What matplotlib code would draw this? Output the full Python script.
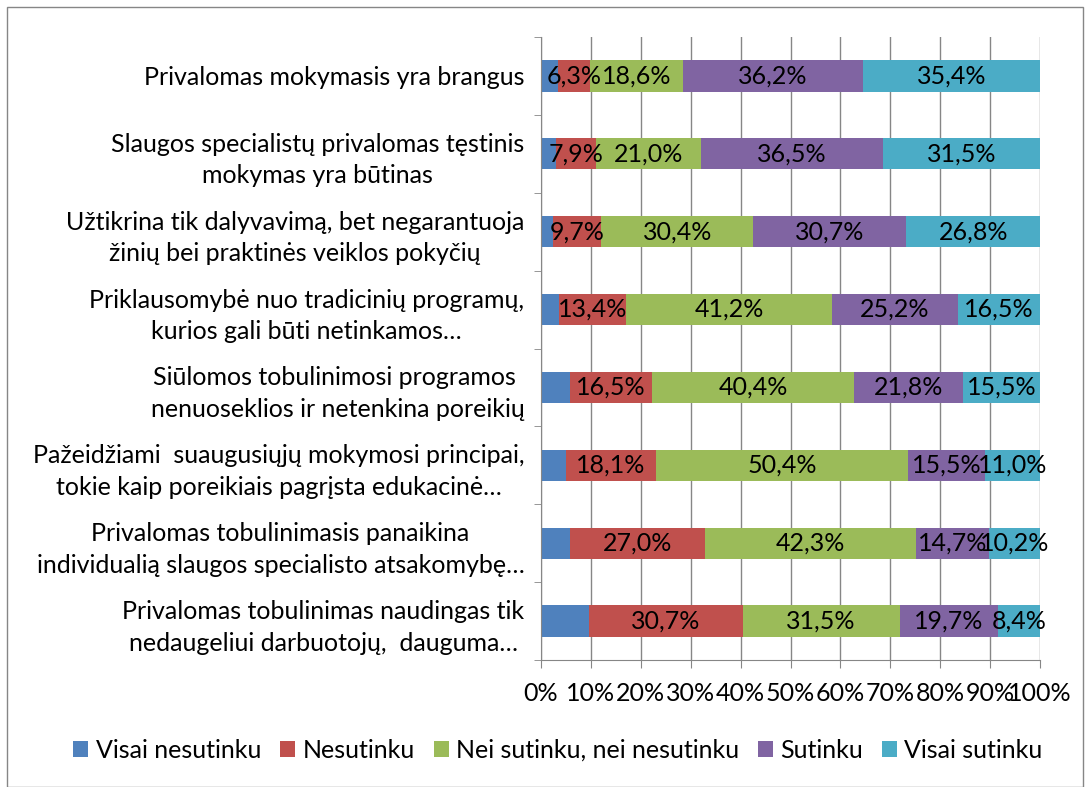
import matplotlib.pyplot as plt
import numpy as np

plt.rcParams['font.family'] = ['Lato', 'DejaVu Sans']

kategorijos = [
    'Privalomas mokymasis yra brangus',
    'Slaugos specialistų privalomas tęstinis\nmokymas yra būtinas',
    'Užtikrina tik dalyvavimą, bet negarantuoja\nžinių bei praktinės veiklos pokyčių',
    'Priklausomybė nuo tradicinių programų,\nkurios gali būti netinkamos…',
    'Siūlomos tobulinimosi programos \nnenuoseklios ir netenkina poreikių',
    'Pažeidžiami  suaugusiųjų mokymosi principai,\ntokie kaip poreikiais pagrįsta edukacinė…',
    'Privalomas tobulinimasis panaikina\nindividualią slaugos specialisto atsakomybę…',
    'Privalomas tobulinimas naudingas tik\nnedaugeliui darbuotojų,  dauguma…',
]
visai_nesutinku = [3.5, 3.1, 2.4, 3.7, 5.8, 5.0, 5.8, 9.7]
nesutinku = [6.3, 7.9, 9.7, 13.4, 16.5, 18.1, 27.0, 30.7]
nei = [18.6, 21.0, 30.4, 41.2, 40.4, 50.4, 42.3, 31.5]
sutinku = [36.2, 36.5, 30.7, 25.2, 21.8, 15.5, 14.7, 19.7]
visai_sutinku = [35.4, 31.5, 26.8, 16.5, 15.5, 11.0, 10.2, 8.4]

serijos = ['Visai nesutinku', 'Nesutinku', 'Nei sutinku, nei nesutinku', 'Sutinku', 'Visai sutinku']
spalvos = ['#4F81BD', '#C0504D', '#9BBB59', '#8064A2', '#4BACC6']
duomenys = [visai_nesutinku, nesutinku, nei, sutinku, visai_sutinku]

fs = 18

fig = plt.figure(figsize=(10.9, 7.87), dpi=100)
ax = fig.add_axes([541/1090, 1 - 660/787, 499/1090, (660-37)/787])

y = np.arange(len(kategorijos))
left = np.zeros(len(kategorijos))
for k, (vals, name, col) in enumerate(zip(duomenys, serijos, spalvos)):
    vals = np.array(vals)
    ax.barh(y, vals, left=left, height=0.4, color=col, label=name, zorder=2)
    if k > 0:
        for yi, l, v in zip(y, left, vals):
            ax.text(l + v/2, yi, f'{v:.1f}%'.replace('.', ','), ha='center', va='center',
                    fontsize=fs, zorder=3)
    left += vals

ax.set_xlim(0, 100)
ax.set_ylim(len(kategorijos) - 0.5, -0.5)
ax.set_xticks(np.arange(0, 101, 10))
ax.set_xticklabels([f'{v}%' for v in range(0, 101, 10)], fontsize=fs)
ax.set_yticks(y)
ax.set_yticklabels(kategorijos, fontsize=fs, multialignment='center', linespacing=1.45)
ax.tick_params(axis='y', length=0, pad=12)
ax.set_yticks(np.arange(-0.5, len(kategorijos)), minor=True)
ax.tick_params(axis='y', which='minor', length=5, color='#868686')
ax.tick_params(axis='x', length=6, color='#868686', pad=10)
ax.grid(axis='x', color='#868686', linewidth=1, zorder=0)
for s in ['top', 'right']:
    ax.spines[s].set_visible(False)
for s in ['left', 'bottom']:
    ax.spines[s].set_color('#868686')

fig.legend(loc='center', bbox_to_anchor=(558/1090, 1 - 750/787), ncol=5, frameon=False,
           fontsize=fs, handlelength=0.6, handleheight=0.6, handletextpad=0.3, columnspacing=0.75)

fig.patches.append(plt.Rectangle((7/1090, 0.0), 1 - 14/1090, 1 - 7/787, transform=fig.transFigure,
                                 fill=False, edgecolor='#868686', linewidth=1))

fig.savefig('out.png', dpi=100)
